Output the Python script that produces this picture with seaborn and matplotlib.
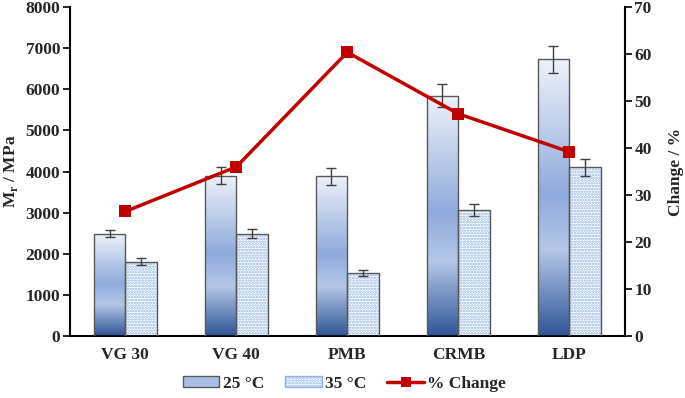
import numpy as np
import pandas as pd
import matplotlib
matplotlib.use("Agg")
import matplotlib.pyplot as plt
from matplotlib.colors import LinearSegmentedColormap
from matplotlib.patches import Patch, Rectangle
from matplotlib.lines import Line2D
import seaborn as sns

# dados
binders = ["VG 30", "VG 40", "PMB", "CRMB", "LDP"]
mr_25 = [2490, 3900, 3880, 5850, 6730]
mr_35 = [1810, 2490, 1530, 3070, 4100]
err_25 = [95, 200, 200, 280, 330]
err_35 = [90, 110, 70, 150, 200]
change = [26.5, 36.0, 60.4, 47.3, 39.2]

sns.set_theme(style="white")
plt.rcParams["font.family"] = ["Liberation Serif", "DejaVu Serif"]
plt.rcParams["font.weight"] = "bold"
plt.rcParams["mathtext.fontset"] = "custom"
plt.rcParams["mathtext.rm"] = "Liberation Serif:bold"
plt.rcParams["mathtext.bf"] = "Liberation Serif:bold"
plt.rcParams["hatch.linewidth"] = 1.2

FS = 12.5

df = pd.DataFrame({
    "binder": binders * 2,
    "temp": ["25 °C"] * 5 + ["35 °C"] * 5,
    "mr": mr_25 + mr_35,
})

fig = plt.figure(figsize=(6.85, 3.98), dpi=100)
ax = fig.add_axes([0.102, 0.156, 0.81, 0.826])

sns.barplot(data=df, x="binder", y="mr", hue="temp", errorbar=None,
            width=0.57, ax=ax, legend=False, saturation=1)

grad = LinearSegmentedColormap.from_list(
    "g", [(0, "#eef2fa"), (0.49, "#8faadc"), (0.69, "#b4c7e7"), (1, "#2f5597")])
edge = "#595959"
hatch_col = "#8fb4e3"

bars25 = ax.containers[0]
bars35 = ax.containers[1]
for p, e in zip(bars25, err_25):
    x0, w, h = p.get_x(), p.get_width(), p.get_height()
    p.set_facecolor("none")
    p.set_edgecolor(edge)
    p.set_linewidth(1)
    p.set_zorder(3)
    img = ax.imshow(np.linspace(0, 1, 256).reshape(-1, 1), cmap=grad, aspect="auto",
                    extent=[x0, x0 + w, 0, h], origin="upper", zorder=2,
                    interpolation="bilinear")
    img.set_clip_path(p)
    ax.errorbar(x0 + w / 2, h, yerr=e, color="#404040", capsize=3.5, lw=1, zorder=4)

for p, e in zip(bars35, err_35):
    x0, w, h = p.get_x(), p.get_width(), p.get_height()
    p.set_facecolor("white")
    p.set_edgecolor(hatch_col)
    p.set_hatch("......")
    p.set_linewidth(0)
    ax.add_patch(Rectangle((x0, 0), w, h, fill=False, edgecolor=edge, lw=1, zorder=3))
    ax.errorbar(x0 + w / 2, h, yerr=e, color="#404040", capsize=3.5, lw=1, zorder=4)

ax.set_xlim(-0.5, 4.5)
ax.set_ylim(0, 8000)
ax.set_yticks(range(0, 8001, 1000))
ax.set_xlabel("")
ax.set_ylabel(r"M$_{\mathbf{r}}$ / MPa", fontsize=FS, fontweight="bold", labelpad=4)
ax.tick_params(axis="x", which="major", length=0, pad=8, labelsize=FS)
ax.set_xticks(np.arange(-0.5, 5, 1), minor=True)
ax.tick_params(axis="x", which="minor", length=5, width=1.2, direction="out", color="black")
ax.tick_params(axis="y", length=5, width=1.2, direction="out", color="black", labelsize=FS, pad=2)
for s in ["left", "bottom"]:
    ax.spines[s].set_color("black")
    ax.spines[s].set_linewidth(1.5)
ax.spines["top"].set_visible(False)
ax.spines["right"].set_visible(False)
for t in ax.get_xticklabels() + ax.get_yticklabels():
    t.set_fontweight("bold")

ax2 = ax.twinx()
sns.lineplot(x=np.arange(5), y=change, color="#c00000", lw=2.5, marker="s",
             markersize=8, markeredgewidth=0, ax=ax2)
ax2.set_ylim(0, 70)
ax2.set_yticks(range(0, 71, 10))
ax2.set_ylabel("Change / %", fontsize=FS, fontweight="bold", labelpad=12)
ax2.tick_params(axis="y", length=5, width=1.2, direction="out", color="black", labelsize=FS, pad=2)
ax2.spines["right"].set_color("black")
ax2.spines["right"].set_linewidth(1.5)
for s in ["top", "left", "bottom"]:
    ax2.spines[s].set_visible(False)
for t in ax2.get_yticklabels():
    t.set_fontweight("bold")

handles = [
    Patch(facecolor="#a9bde4", edgecolor=edge, lw=1),
    Patch(facecolor="white", edgecolor=hatch_col, hatch="......", lw=1),
    Line2D([], [], color="#c00000", lw=2.5, marker="s", markersize=7, markeredgewidth=0),
]
leg = fig.legend(handles, ["25 °C", "35 °C", "% Change"], loc="center",
                 bbox_to_anchor=(0.503, 0.035), ncol=3, frameon=False,
                 prop={"weight": "bold", "size": FS}, handlelength=2.1,
                 handleheight=0.6, columnspacing=1.2, handletextpad=0.2)

plt.savefig("out.png", dpi=100)
